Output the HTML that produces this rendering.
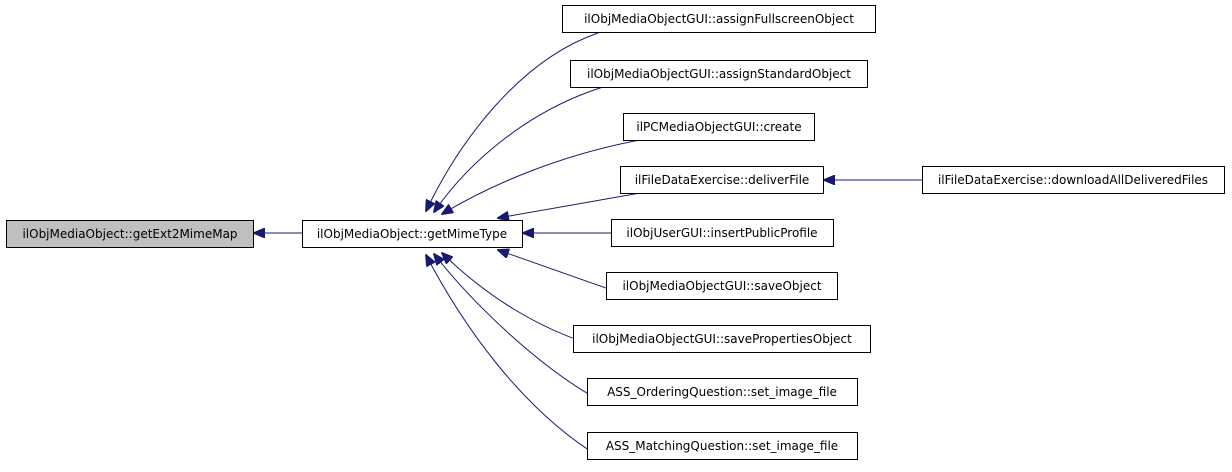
<!DOCTYPE html>
<html><head><meta charset="utf-8"><style>
body{margin:0;background:#fff;width:1232px;height:467px;overflow:hidden}
svg text{font-family:"DejaVu Sans","Liberation Sans",sans-serif;font-size:12px;fill:#000}
</style></head><body>
<svg width="1232" height="467" viewBox="0 0 1232 467" xmlns="http://www.w3.org/2000/svg">
<defs>
<marker id="a" markerWidth="12" markerHeight="10" refX="11" refY="5" orient="auto" markerUnits="userSpaceOnUse">
<path d="M0,0 L12,5 L0,10 Z" fill="#191970" stroke="#191970"/>
</marker>
</defs>
<g fill="none" stroke="#191970" stroke-width="1" marker-end="url(#a)">
<path d="M302,233 L254,233"/>
<path d="M598,33 C520,60 460,140 426,211"/>
<path d="M603,87 C530,110 470,160 434,212"/>
<path d="M640,140 C560,155 490,185 442,214"/>
<path d="M640,193 L498,218"/>
<path d="M611,233 L523,233"/>
<path d="M637,299 L498,250"/>
<path d="M620,352 C540,335 480,290 442,253"/>
<path d="M608,405 C540,370 470,300 434,254"/>
<path d="M603,459 C520,410 460,320 426,255"/>
<path d="M922,180 L824,180"/>
</g>
<g stroke="#000" stroke-width="1">
<rect x="6.5" y="220.5" width="247" height="27" fill="#bfbfbf"/>
<rect x="302.5" y="220.5" width="220" height="27" fill="#fff"/>
<rect x="562.5" y="5.5" width="313" height="27" fill="#fff"/>
<rect x="570.5" y="60.5" width="297" height="27" fill="#fff"/>
<rect x="623.5" y="113.5" width="191" height="27" fill="#fff"/>
<rect x="620.5" y="166.5" width="203" height="27" fill="#fff"/>
<rect x="922.5" y="166.5" width="302" height="27" fill="#fff"/>
<rect x="611.5" y="219.5" width="222" height="27" fill="#fff"/>
<rect x="606.5" y="272.5" width="231" height="27" fill="#fff"/>
<rect x="573.5" y="325.5" width="297" height="27" fill="#fff"/>
<rect x="587.5" y="378.5" width="270" height="27" fill="#fff"/>
<rect x="587.5" y="432.5" width="270" height="27" fill="#fff"/>
</g>
<g text-anchor="middle">
<text x="130" y="238">ilObjMediaObject::getExt2MimeMap</text>
<text x="412" y="238">ilObjMediaObject::getMimeType</text>
<text x="719" y="23">ilObjMediaObjectGUI::assignFullscreenObject</text>
<text x="719" y="78">ilObjMediaObjectGUI::assignStandardObject</text>
<text x="719" y="131">ilPCMediaObjectGUI::create</text>
<text x="722" y="184">ilFileDataExercise::deliverFile</text>
<text x="1073" y="184">ilFileDataExercise::downloadAllDeliveredFiles</text>
<text x="722" y="237">ilObjUserGUI::insertPublicProfile</text>
<text x="722" y="290">ilObjMediaObjectGUI::saveObject</text>
<text x="722" y="343">ilObjMediaObjectGUI::savePropertiesObject</text>
<text x="722" y="396">ASS_OrderingQuestion::set_image_file</text>
<text x="722" y="450">ASS_MatchingQuestion::set_image_file</text>
</g>
</svg>
</body></html>
